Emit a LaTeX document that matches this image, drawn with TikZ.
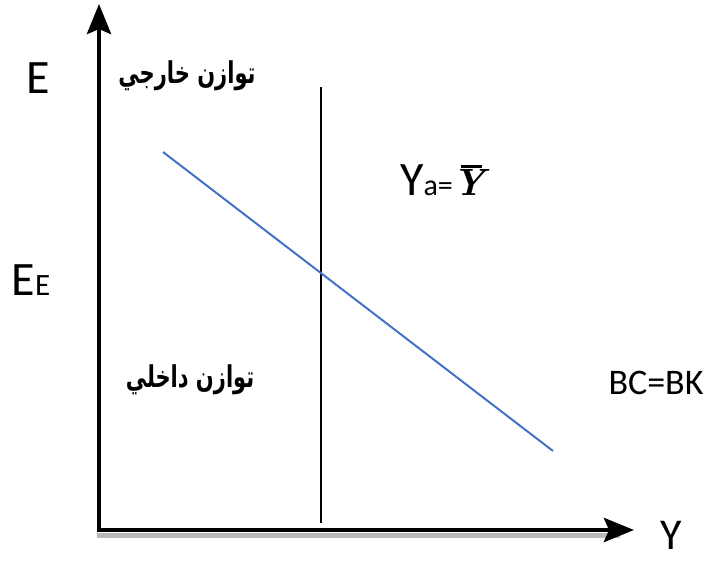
\documentclass[tikz,border=0pt]{standalone}
\usepackage{fontspec}
\setmainfont{Carlito}
\newfontfamily\arabicfont[Script=Arabic]{DejaVu Sans}
\newfontfamily\lmfont{Latin Modern Roman}
\TeXXeTstate=1
\usetikzlibrary{arrows.meta}
\definecolor{lineblue}{RGB}{68,114,196}
\newcommand{\ybar}{{\lmfont\bfseries\itshape\rlap{\hspace{0.22em}\rule[0.72em]{0.55em}{0.07em}}Y}}
\tikzset{
  axislabel/.style={font=\fontsize{48}{56}\selectfont},
  arlabel/.style={font=\arabicfont\bfseries\fontsize{30}{36}\selectfont,xscale=0.7},
  axis/.style={line width=4.5pt,-{Stealth[length=30pt,width=24pt,inset=5pt]}},
}
\begin{document}
\begin{tikzpicture}[x=1pt,y=-1pt]
            \useasboundingbox (0,0) rectangle (707,561);
            \coordinate (origin) at (99,530);
            \coordinate (etop) at (99,4);
            \coordinate (yend) at (634,530);
            \coordinate (vtop) at (321,87);
            \coordinate (vbot) at (321,523);
            \coordinate (bstart) at (163,152);
            \coordinate (bend) at (553,451);
            % shadow under the Y axis
            \draw[gray!55,line width=5pt] (97,535) -- (620,535);
            \draw[axis] (origin) -- (etop);
            \draw[axis] ([xshift=-2pt]origin) -- (yend);
            \draw[line width=2.2pt] (vtop) -- (vbot);
            \draw[lineblue,line width=2pt] (bstart) -- (bend);
            \node[axislabel] (elabel) at (38,78) {E};
            \node[axislabel] (ee) at (31,280) {E{\fontsize{31}{36}\selectfont E}};
            \node[font=\fontsize{44}{52}\selectfont] (ylabel) at (671,535) {Y};
            \node[axislabel] (ya) at (443,180) {Y{\fontsize{30}{36}\selectfont a=}{\fontsize{38}{46}\selectfont\ybar}};
            \node[font=\fontsize{36}{44}\selectfont] (bcbk) at (656,383) {BC=BK};
            \node[arlabel] (external) at (187,76) {\beginR توازن خارجي\endR};
            \node[arlabel] (internal) at (190,380) {\beginR توازن داخلي\endR};
        \end{tikzpicture}
\end{document}
